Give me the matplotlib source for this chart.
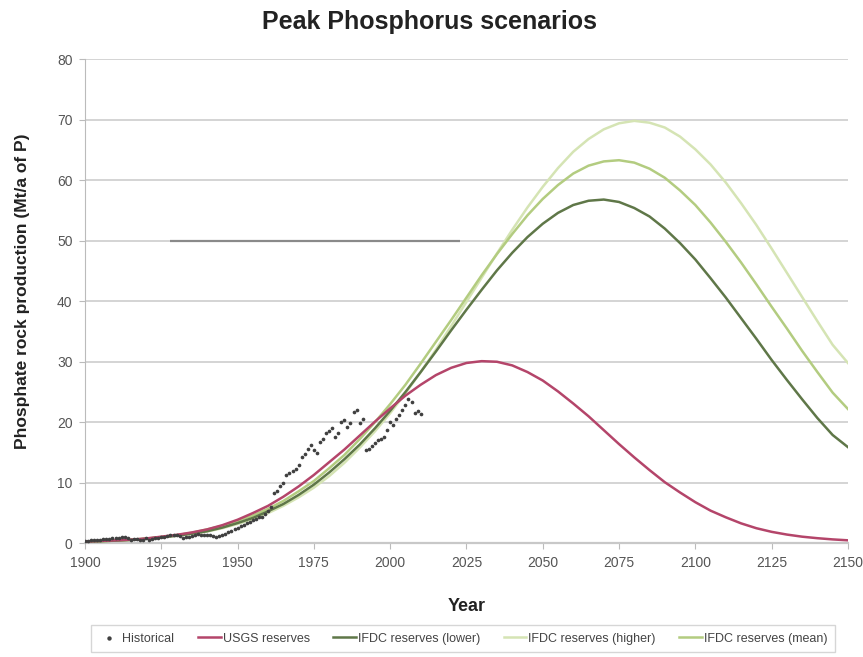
import numpy as np
import matplotlib
matplotlib.use("Agg")
import matplotlib.pyplot as plt

plt.rcParams['font.family'] = ['Liberation Sans', 'DejaVu Sans']

# --- data ---
years = np.arange(1900, 2155, 5)

usgs = [0.3, 0.4, 0.5, 0.6, 0.8, 1.1, 1.4, 1.8, 2.3, 3.0,
        3.9, 5.0, 6.2, 7.7, 9.4, 11.3, 13.4, 15.5, 17.8, 20.1,
        22.3, 24.4, 26.2, 27.8, 29.0, 29.8, 30.1, 30.0, 29.4, 28.3,
        26.9, 25.1, 23.1, 21.0, 18.7, 16.4, 14.2, 12.1, 10.1, 8.4,
        6.8, 5.4, 4.3, 3.3, 2.5, 1.9, 1.45, 1.1, 0.85, 0.65, 0.5]

ifdc_lower = [0.3, 0.35, 0.45, 0.55, 0.75, 1.0, 1.25, 1.6, 2.0, 2.6,
              3.35, 4.2, 5.3, 6.5, 8.0, 9.7, 11.7, 13.9, 16.3, 19.0,
              21.9, 25.0, 28.3, 31.7, 35.2, 38.6, 41.9, 45.1, 48.0, 50.6,
              52.8, 54.6, 55.9, 56.6, 56.8, 56.4, 55.4, 54.0, 52.0, 49.6,
              46.9, 43.8, 40.6, 37.2, 33.8, 30.3, 27.0, 23.8, 20.7, 17.9, 15.9]

ifdc_mean = [0.3, 0.35, 0.45, 0.6, 0.8, 1.05, 1.35, 1.75, 2.3, 2.9,
             3.7, 4.6, 5.7, 7.0, 8.6, 10.3, 12.4, 14.6, 17.2, 20.0,
             23.0, 26.2, 29.7, 33.3, 36.9, 40.6, 44.3, 47.8, 51.1, 54.2,
             56.9, 59.2, 61.1, 62.4, 63.1, 63.3, 62.9, 61.9, 60.4, 58.3,
             55.9, 53.0, 49.8, 46.4, 42.8, 39.1, 35.5, 31.8, 28.3, 24.9, 22.2]

ifdc_higher = [0.3, 0.35, 0.45, 0.55, 0.75, 1.0, 1.25, 1.55, 1.95, 2.5,
               3.2, 4.0, 5.0, 6.2, 7.6, 9.2, 11.1, 13.3, 15.8, 18.5,
               21.5, 24.8, 28.3, 32.0, 35.9, 39.9, 43.9, 47.9, 51.8, 55.5,
               58.9, 62.0, 64.7, 66.8, 68.4, 69.4, 69.8, 69.5, 68.7, 67.2,
               65.1, 62.6, 59.6, 56.2, 52.6, 48.7, 44.7, 40.7, 36.7, 32.8, 29.8]

hist_years = np.arange(1900, 2011)
hist = [0.40, 0.45, 0.50, 0.50, 0.55, 0.60, 0.65, 0.70, 0.75, 0.80,
        0.85, 0.90, 1.00, 1.10, 0.80, 0.60, 0.65, 0.70, 0.60, 0.55,
        0.80, 0.60, 0.75, 0.85, 0.90, 1.00, 1.10, 1.20, 1.30, 1.40,
        1.45, 1.20, 0.90, 1.00, 1.10, 1.20, 1.30, 1.50, 1.45, 1.40,
        1.30, 1.30, 1.20, 1.10, 1.15, 1.30, 1.60, 1.90, 2.10, 2.30,
        2.60, 2.90, 3.10, 3.30, 3.50, 3.80, 4.00, 4.30, 4.40, 4.80,
        5.30, 6.00, 8.30, 8.60, 9.40, 10.0, 11.3, 11.6, 12.0, 12.2,
        13.0, 14.3, 14.8, 15.6, 16.2, 15.4, 15.0, 16.8, 17.2, 18.2,
        18.6, 19.0, 17.6, 18.2, 20.1, 20.4, 19.2, 19.8, 21.7, 22.0,
        19.8, 20.5, 15.4, 15.6, 16.0, 16.6, 17.0, 17.3, 17.6, 18.8,
        20.1, 19.6, 20.5, 21.2, 22.0, 22.8, 23.9, 23.4, 21.5, 21.8, 21.3]

# odd grey bar across the 50 line
bar_x = [1928, 2023]
bar_y = 50

fig = plt.figure(figsize=(8.63, 6.57), dpi=100)
ax = fig.add_axes([0.0985, 0.173, 0.884, 0.737])

ax.set_xlim(1900, 2150)
ax.set_ylim(0, 80)
ax.set_xticks(np.arange(1900, 2151, 25))
ax.set_yticks(np.arange(0, 81, 10))
ax.grid(axis='y', color='#d4d4d4', linewidth=1.4)
ax.set_axisbelow(True)
for s in ['top', 'right']:
    ax.spines[s].set_visible(False)
ax.spines['left'].set_color('#bbbbbb')
ax.spines['bottom'].set_color('#c8c8c8')
ax.spines['bottom'].set_linewidth(1.6)
ax.tick_params(colors='#555555', labelsize=10, length=4, width=0.8)
ax.tick_params(axis='x', color='#bbbbbb', pad=5)
ax.tick_params(axis='y', color='#bbbbbb', pad=5)

ax.hlines(bar_y, bar_x[0], bar_x[1], color='#8a8a8a', linewidth=1.6, zorder=2)

ax.plot(years, ifdc_higher, color='#d5e4b4', lw=1.8, label='IFDC reserves (higher)', zorder=3)
ax.plot(years, ifdc_mean, color='#b3cc80', lw=1.8, label='IFDC reserves (mean)', zorder=3)
ax.plot(years, ifdc_lower, color='#5f7748', lw=1.8, label='IFDC reserves (lower)', zorder=3)
ax.plot(years, usgs, color='#b4456a', lw=1.8, label='USGS reserves', zorder=3)
ax.scatter(hist_years, hist, s=7, marker='o', color='#404040', label='Historical', zorder=4, linewidths=0)

fig.suptitle('Peak Phosphorus scenarios', x=0.498, y=0.966, va='center',
             fontsize=18, fontweight='bold', color='#222222')
ax.set_xlabel('Year', fontsize=13, fontweight='bold', labelpad=20, color='#222222')
ax.set_ylabel('Phosphate rock production (Mt/a of P)', fontsize=12.5, fontweight='bold', color='#222222')
ax.yaxis.set_label_coords(-0.072, 0.52)

h, l = ax.get_legend_handles_labels()
order = ['Historical', 'USGS reserves', 'IFDC reserves (lower)', 'IFDC reserves (higher)', 'IFDC reserves (mean)']
hh = [h[l.index(o)] for o in order]
leg = fig.legend(hh, order, loc='center', bbox_to_anchor=(0.536, 0.028),
                 ncol=5, fontsize=9, frameon=True, fancybox=False, edgecolor='#cccccc', handlelength=1.8,
                 handletextpad=0.15, columnspacing=1.9, markerscale=1.2, borderpad=0.6, borderaxespad=0)
for t in leg.get_texts():
    t.set_color('#444444')

fig.savefig('out.png', dpi=100)
